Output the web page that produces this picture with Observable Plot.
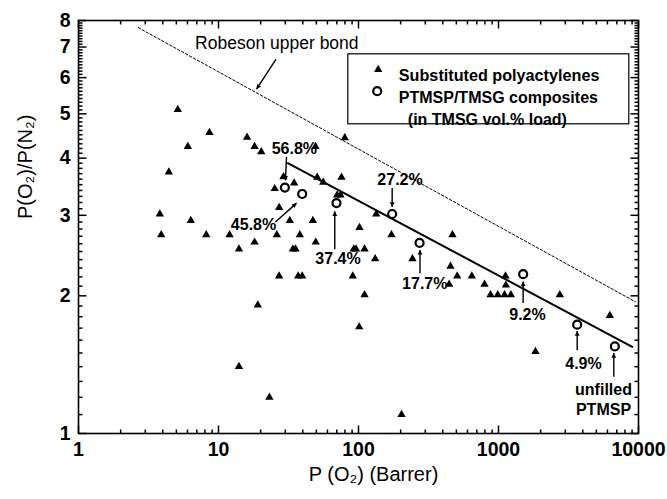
<!DOCTYPE html>
<html><head><meta charset="utf-8">
<script src="https://cdn.jsdelivr.net/npm/d3@7"></script>
<script src="https://cdn.jsdelivr.net/npm/@observablehq/plot@0.6"></script>
<style>body{margin:0;background:#fff;}</style>
</head><body><div id="chart"></div>
<script>
// Substituted polyacetylenes (triangles)
const polyX = [5.12,8.62,6.04,4.42,3.81,3.9,6.34,8.17,12.0,16.0,18.1,20.2,49.3,29.1,34.7,25.2,27.1,32.3,47.2,26.1,38.1,49.5,18.1,14.0,34.0,35.5,27.1,37.1,39.6,19.1,14.0,23.1,203,79.8,50.7,56.0,75.6,70.4,74.4,133.8,101.6,92.5,96,110.4,131.5,91.0,110.4,101.2,172,469,243,454,507,444,645,795,877,988,1104,1225,1122,1130,2742,1837,6240];
const polyY = [5.11,4.55,4.24,3.73,3.02,2.72,2.92,2.72,2.72,4.44,4.24,4.13,4.24,3.64,3.53,3.43,3.12,2.92,2.92,2.72,2.72,2.62,2.62,2.53,2.53,2.53,2.21,2.21,2.21,1.91,1.40,1.20,1.10,4.43,3.63,3.54,3.63,3.32,3.32,3.02,2.82,2.53,2.53,2.53,2.41,2.21,2.01,1.71,2.72,2.72,2.41,2.32,2.21,2.12,2.21,2.12,2.01,2.01,2.01,2.01,2.21,2.11,2.01,1.51,1.81];
// PTMSP/TMSG composites (open circles)
const compX = [29.8,39.6,69.6,174,273,1500,3647,6777];
const compY = [3.45,3.34,3.19,3.02,2.61,2.23,1.73,1.55];
// annotation labels (TMSG vol.% load)
const annText = ["56.8%","45.8%","37.4%","27.2%","17.7%","9.2%","4.9%","unfilled\nPTMSP"];
const annX = [34.8,17.8,71.4,198,297.6,1611,4047,5623];
const annY = [4.22,2.88,2.42,3.61,2.14,1.83,1.43,1.195];
// annotation arrows
const arrX1 = [25.7,30.6,25.5,67.7,174,275,1500,3648,6662];
const arrY1 = [6.58,4.03,2.90,2.53,3.44,2.24,1.93,1.52,1.33];
const arrX2 = [18.7,30.1,36.1,67.7,174,275,1500,3648,6662];
const arrY2 = [5.66,3.58,3.19,3.06,3.13,2.52,2.15,1.675,1.50];
// fitted trend line and Robeson upper bound
const fitX = [31.3, 9017];
const fitY = [3.90, 1.547];
const robX = [2.67, 9520];
const robY = [7.72, 1.94];
// ticks
const xMajor = [1,10,100,1000,10000];
const yMajor = [1,2,3,4,5,6,7,8];
const xMinor = [];
for (const d of [1,10,100,1000]) for (let k = 2; k <= 9; k++) xMinor.push(d*k);
const yMinor = [];
for (let i = 11; i < 80; i++) if (i % 10 !== 0) yMinor.push(i/10);

const poly = polyX.map((x,i)=>({x, y: polyY[i]}));
const comp = compX.map((x,i)=>({x, y: compY[i]}));
const ann = annText.map((t,i)=>({t, x: annX[i], y: annY[i]}));
const arrows = arrX1.map((x1,i)=>({x1, y1: arrY1[i], x2: arrX2[i], y2: arrY2[i]}));
const fit = fitX.map((x,i)=>({x, y: fitY[i]}));
const rob = robX.map((x,i)=>({x, y: robY[i]}));

const W = 667, H = 499, ML = 78, MR = 29, MT = 20, MB = 66;
const xDom = [1, 10000], yDom = [1, 8];
const F = "Liberation Sans, Arial, Helvetica, sans-serif";
// the library's own scales, used to find where an inward tick of a given pixel length ends
const xs = Plot.scale({x: {type: "log", domain: xDom, range: [ML, W - MR]}});
const ys = Plot.scale({y: {type: "log", domain: yDom, range: [H - MB, MT]}});
const tickStyle = {stroke: "#000", strokeWidth: 1.5};
const ticksX = (vals, len) => {
  const yb = ys.invert(H - MB - len), yt = ys.invert(MT + len);
  return [
    Plot.link(vals, {x1: d => d, x2: d => d, y1: () => yDom[0], y2: () => yb, ...tickStyle}),
    Plot.link(vals, {x1: d => d, x2: d => d, y1: () => yDom[1], y2: () => yt, ...tickStyle})
  ];
};
const ticksY = (vals, len) => {
  const xl = xs.invert(ML + len), xr = xs.invert(W - MR - len);
  return [
    Plot.link(vals, {y1: d => d, y2: d => d, x1: () => xDom[0], x2: () => xl, ...tickStyle}),
    Plot.link(vals, {y1: d => d, y2: d => d, x1: () => xDom[1], x2: () => xr, ...tickStyle})
  ];
};
const chart = Plot.plot({
  width: W, height: H,
  marginLeft: ML, marginRight: MR, marginTop: MT, marginBottom: MB,
  style: {fontFamily: F, background: "#fff", color: "#000"},
  x: {type: "log", domain: xDom, axis: null},
  y: {type: "log", domain: yDom, axis: null},
  marks: [
    ...ticksX(xMajor, 8), ...ticksX(xMinor, 4),
    ...ticksY(yMajor, 8), ...ticksY(yMinor, 4),
    // tick labels
    Plot.text(xMajor, {x: d => d, frameAnchor: "bottom", dy: 9, lineAnchor: "top", text: d => String(d), fontSize: 19.5, fontWeight: "bold"}),
    Plot.text(yMajor, {y: d => d, frameAnchor: "left", dx: -8, textAnchor: "end", text: d => String(d), fontSize: 19.5, fontWeight: "bold"}),
    Plot.frame({stroke: "#000", strokeWidth: 1.6}),
    Plot.line(rob, {x: "x", y: "y", stroke: "#000", strokeWidth: 1, strokeDasharray: "2.5,2"}),
    Plot.line(fit, {x: "x", y: "y", stroke: "#000", strokeWidth: 2}),
    Plot.dot(poly, {x: "x", y: "y", symbol: "triangle", fill: "#000", r: 3.1}),
    Plot.dot(comp, {x: "x", y: "y", symbol: "circle", fill: "#fff", stroke: "#000", strokeWidth: 2.2, r: 4}),
    Plot.link(arrows, {x1: "x1", y1: "y1", x2: "x2", y2: "y2", stroke: "#000", strokeWidth: 1.4, markerEnd: "arrow"}),
    Plot.text(ann, {x: "x", y: "y", text: "t", fontSize: 16, fontWeight: "bold", lineHeight: 1.25}),
    Plot.text(["Robeson upper bond"], {x: () => 26.1, y: () => 7.14, fontSize: 17.5, textAnchor: "middle"}),
    // legend
    Plot.frame({stroke: "#000", strokeWidth: 1.2, insetLeft: 269.3, insetTop: 33.3, insetRight: 9.7, insetBottom: 309.7}),
    Plot.dot([0], {frameAnchor: "top-left", dx: 299.7, dy: 49, symbol: "triangle", fill: "#000", r: 3.1}),
    Plot.dot([0], {frameAnchor: "top-left", dx: 298.7, dy: 70.7, symbol: "circle", fill: "#fff", stroke: "#000", strokeWidth: 2.2, r: 4}),
    Plot.text(["Substituted polyactylenes"], {frameAnchor: "top-left", dx: 320.3, dy: 49, textAnchor: "start", fontSize: 16.2, fontWeight: "bold"}),
    Plot.text(["PTMSP/TMSG composites"], {frameAnchor: "top-left", dx: 320.3, dy: 71, textAnchor: "start", fontSize: 16, fontWeight: "bold"}),
    Plot.text(["(in TMSG vol.% load)"], {frameAnchor: "top-left", dx: 329.3, dy: 92.7, textAnchor: "start", fontSize: 16, fontWeight: "bold"}),
    // axis titles
    Plot.text(["P (O\u2082) (Barrer)"], {frameAnchor: "bottom", dx: 15, dy: 47, fontSize: 20}),
    Plot.text(["P(O\u2082)/P(N\u2082)"], {frameAnchor: "left", dx: -53, dy: -8, rotate: -90, fontSize: 20})
  ]
});
// filled arrowheads
chart.querySelectorAll("marker").forEach(m => {
  m.setAttribute("fill", "#000");
  m.setAttribute("stroke", "none");
  const p = m.querySelector("path");
  if (p) p.setAttribute("d", "M-5,-2.6L0,0L-5,2.6Z");
});
document.getElementById("chart").appendChild(chart);
</script>
</body></html>
